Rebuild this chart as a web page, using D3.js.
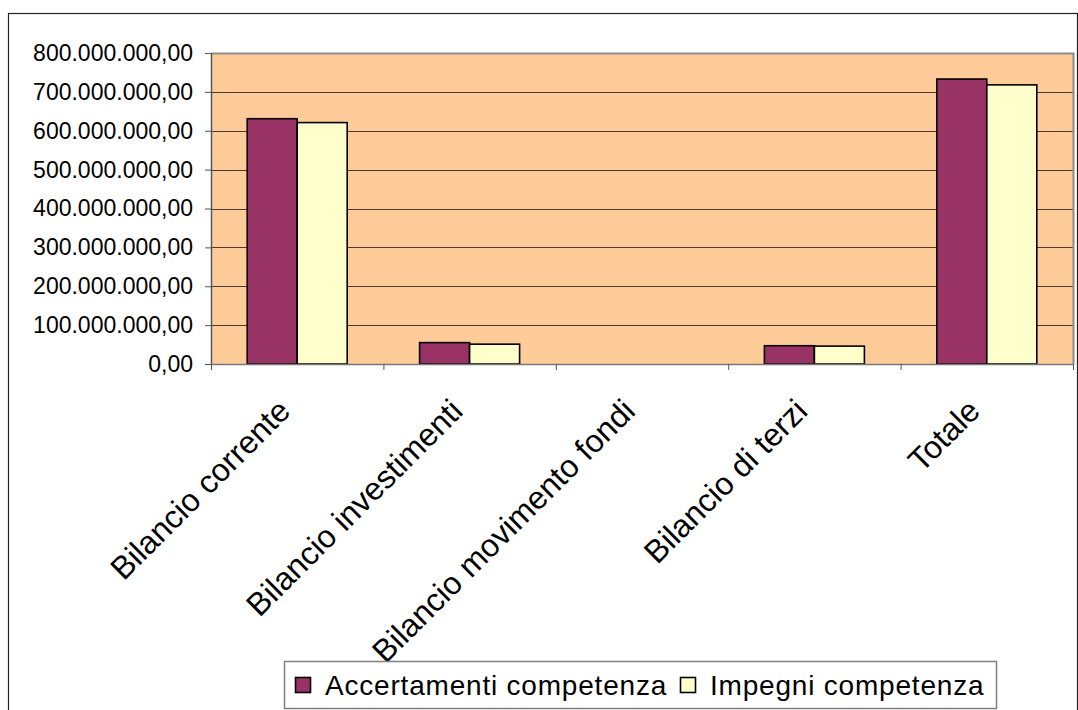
<!DOCTYPE html>
<html>
<head>
<meta charset="utf-8">
<script src="https://cdn.jsdelivr.net/npm/d3@7"></script>
<style>
  body { margin: 0; background: #fff; }
  svg { display: block; font-family: "Liberation Sans", Arial, sans-serif; }
</style>
</head>
<body>
<svg id="chart" width="1078" height="710"></svg>
<script>
// data
var categories = ["Bilancio corrente", "Bilancio investimenti", "Bilancio movimento fondi", "Bilancio di terzi", "Totale"];
var seriesNames = ["Accertamenti competenza", "Impegni competenza"];
var accertamenti = [631000000, 55000000, 0, 47000000, 733000000];
var impegni = [621000000, 51000000, 0, 46000000, 718000000];
var yTicks = [0, 100000000, 200000000, 300000000, 400000000, 500000000, 600000000, 700000000, 800000000];
var colors = ["#993366", "#FFFFCC"];

var svg = d3.select("#chart");

// plot area
var pLeft = 211, pRight = 1073, pTop = 53, pBottom = 364;

var it = d3.formatLocale({decimal: ",", thousands: ".", grouping: [3], currency: ["", "€"]});
var fmt = it.format(",.2f");

// outer frame
svg.append("rect")
  .attr("x", 8.5).attr("y", 13.5)
  .attr("width", 1069).attr("height", 720)
  .attr("fill", "none").attr("stroke", "#222").attr("stroke-width", 1.2);

var x0 = d3.scaleBand().domain(categories).range([pLeft, pRight]).padding(0);
var x1 = d3.scaleBand().domain(seriesNames).range([0, x0.bandwidth()]).paddingInner(0).paddingOuter(0.724);
var y = d3.scaleLinear().domain([0, 800000000]).range([pBottom, pTop]);

svg.append("rect")
  .attr("x", pLeft).attr("y", pTop)
  .attr("width", pRight - pLeft).attr("height", pBottom - pTop)
  .attr("fill", "#FFCC99");

// gridlines
svg.append("g").selectAll("line")
  .data(yTicks.slice(1, -1))
  .enter().append("line")
  .attr("x1", pLeft).attr("x2", pRight)
  .attr("y1", function(d) { return Math.round(y(d)) + 0.5; })
  .attr("y2", function(d) { return Math.round(y(d)) + 0.5; })
  .attr("stroke", "#4e3a2c").attr("stroke-width", 1.2);

// plot border (top / right)
svg.append("path")
  .attr("d", "M" + pLeft + "," + (pTop + 0.5) + "H" + (pRight + 0.5) + "V" + pBottom)
  .attr("fill", "none").attr("stroke", "#8c8c8c").attr("stroke-width", 2);

// bars
var rows = categories.map(function(c, i) { return {cat: c, vals: [accertamenti[i], impegni[i]]}; });
var groups = svg.append("g").selectAll("g")
  .data(rows).enter().append("g")
  .attr("transform", function(d) { return "translate(" + x0(d.cat) + ",0)"; });
groups.selectAll("rect")
  .data(function(d) {
    return d.vals.map(function(v, j) { return {name: seriesNames[j], v: v, j: j}; })
      .filter(function(e) { return e.v > 0; });
  })
  .enter().append("rect")
  .attr("x", function(d) { return x1(d.name); })
  .attr("y", function(d) { return y(d.v); })
  .attr("width", x1.bandwidth())
  .attr("height", function(d) { return pBottom - y(d.v); })
  .attr("fill", function(d) { return colors[d.j]; })
  .attr("stroke", "#000").attr("stroke-width", 1.6);

// y axis
var yAxis = svg.append("g")
  .attr("transform", "translate(" + pLeft + ",0)")
  .call(d3.axisLeft(y).tickValues(yTicks).tickFormat(fmt).tickSize(6).tickSizeOuter(0).tickPadding(12));
yAxis.select(".domain").attr("stroke", "#555").attr("stroke-width", 1.5);
yAxis.selectAll(".tick line").attr("stroke", "#555");
yAxis.selectAll("text").attr("font-size", 23).attr("fill", "#000")
  .attr("font-family", "'Liberation Sans', Arial, sans-serif");

// x axis (ticks at category boundaries)
var xb = d3.scaleLinear().domain([0, categories.length]).range([pLeft, pRight]);
var xAxis = svg.append("g")
  .attr("transform", "translate(0," + pBottom + ")")
  .call(d3.axisBottom(xb).ticks(categories.length).tickFormat("").tickSize(6).tickSizeOuter(0));
xAxis.select(".domain").attr("stroke", "#777").attr("stroke-width", 1.5);
xAxis.selectAll(".tick line").attr("stroke", "#555");

// category labels, rotated
svg.append("g").selectAll("text")
  .data(categories).enter().append("text")
  .attr("transform", function(d) {
    var cx = x0(d) + x0.bandwidth() / 2 - 5;
    return "translate(" + cx + ",413) rotate(-45)";
  })
  .attr("text-anchor", "end")
  .attr("font-size", 32)
  .attr("fill", "#000")
  .text(function(d) { return d; });

// legend
var lg = svg.append("g");
lg.append("rect")
  .attr("x", 284.5).attr("y", 661.5).attr("width", 712).attr("height", 47)
  .attr("fill", "#fff").attr("stroke", "#808080").attr("stroke-width", 1.5);
var legendX = [295, 680];
seriesNames.forEach(function(n, i) {
  lg.append("rect")
    .attr("x", legendX[i] + 0.5).attr("y", 677.5).attr("width", 15).attr("height", 15)
    .attr("fill", colors[i]).attr("stroke", "#000").attr("stroke-width", 1.6);
  lg.append("text")
    .attr("x", legendX[i] + 30).attr("y", 695)
    .attr("font-size", 28).attr("letter-spacing", 0.8).attr("fill", "#000")
    .text(n);
});
</script>
</body>
</html>
